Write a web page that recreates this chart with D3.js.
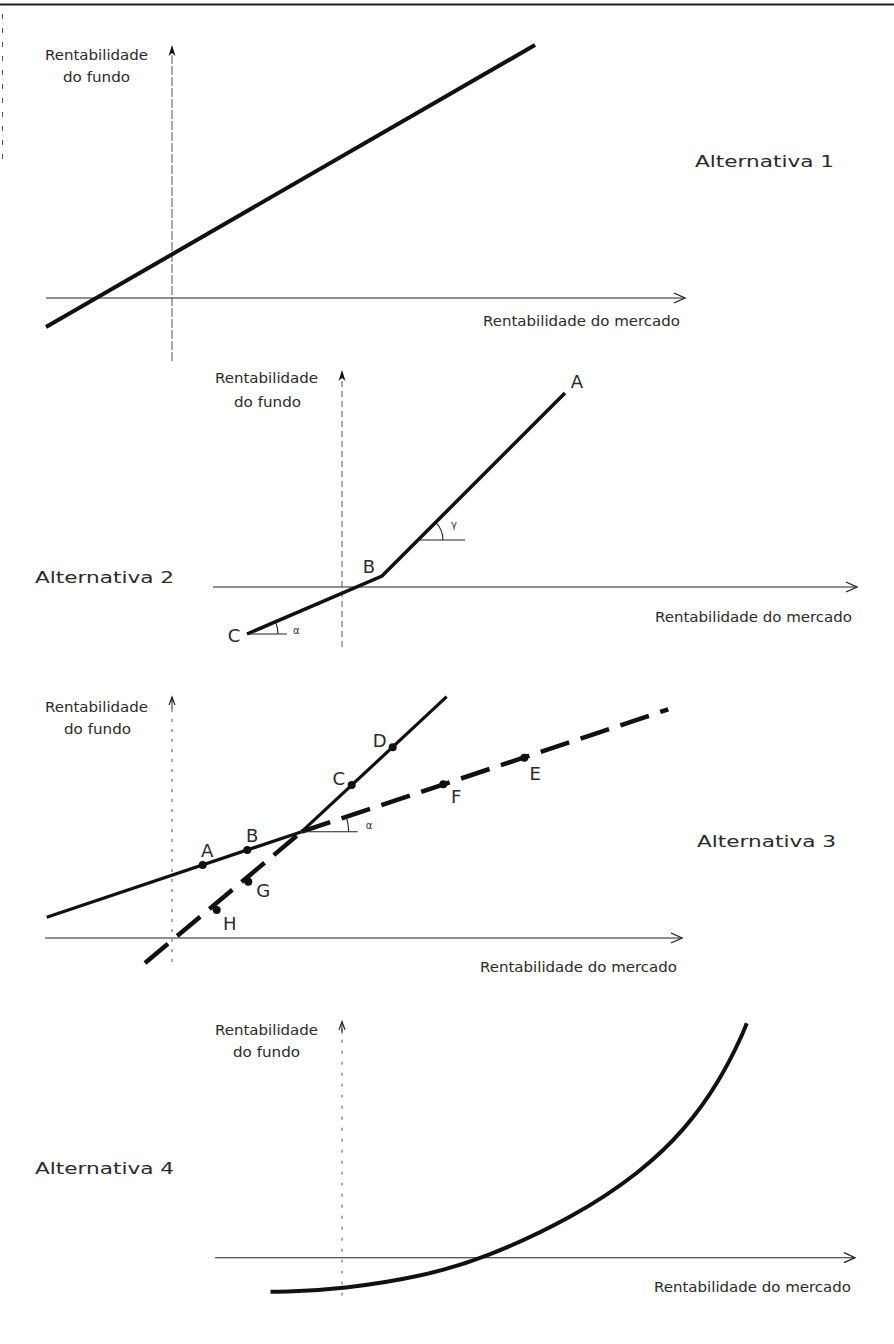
<!DOCTYPE html>
<html><head><meta charset="utf-8">
<script src="https://cdn.jsdelivr.net/npm/d3@7"></script>
<style>
body{margin:0;background:#fff}
svg{display:block;background:#fff}
text{font-family:"DejaVu Sans",sans-serif;fill:#2b2b2b}
</style>
</head><body>
<svg id="c" width="894" height="1344"></svg>
<script>
// ---------------- DATA ----------------
const yAxisTitle = ["Rentabilidade", "do fundo"];
const xAxisTitle = "Rentabilidade do mercado";
const panelTitles = ["Alternativa 1", "Alternativa 2", "Alternativa 3", "Alternativa 4"];

// Alternativa 1 : straight line
const alt1Line = [[-12.6, -2.9], [36.3, 25.3]];

// Alternativa 2 : kinked line C - B - A
const alt2Line = [[-9.5, -4.7], [4.0, 1.1], [22.3, 19.4]];
const alt2Points = ["C", "B", "A"];
const alt2Angles = [{x: -9.5, y: -4.7, seg: 0, sym: "α"}, {x: 7.6, y: 4.7, seg: 1, sym: "γ"}];

// Alternativa 3 : two lines crossing
const alt3Cross = [12.97, 10.63];
const alt3ShallowStart = [-12.53, 2.07];
const alt3ShallowEnd = [49.63, 22.87];
const alt3SteepStart = [-2.7, -2.5];
const alt3SteepEnd = [27.47, 24.13];
const alt3Points = [
  {t: "A", x: 3.07, y: 7.3}, {t: "B", x: 7.53, y: 8.8},
  {t: "C", x: 17.97, y: 15.3}, {t: "D", x: 22.07, y: 19.07},
  {t: "E", x: 35.23, y: 18.03}, {t: "F", x: 27.13, y: 15.37},
  {t: "G", x: 7.63, y: 5.63}, {t: "H", x: 4.47, y: 2.8}
];
const alt3AngleSym = "α";

// Alternativa 4 : convex curve
const alt4Curve = [[-7.15, -3.4], [-5.5, -3.4], [0, -3.13], [7.85, -1.93], [14.46, 0], [23.28, 4.1],
                   [29.89, 8.57], [34.3, 12.77], [37.83, 17.77], [40.0, 22.2], [40.47, 23.44]];

// ---------------- LAYOUT ----------------
const UNIT = 10;
const panels = [
  {ox: 172, oy: 298, xExt: [-12.6, 51.3], yExt: [-6.3, 25.3], yDash: "9,2", filled: true,
   rent: [-127, -238], fundo: [-109, -216], merc: [311, 28], title: [523, -131]},
  {ox: 342, oy: 587, xExt: [-12.9, 51.5], yExt: [-6.0, 21.7], yDash: "6,4", filled: true,
   rent: [-127, -204], fundo: [-108, -180], merc: [313, 35], title: [-307, -4]},
  {ox: 172, oy: 938, xExt: [-12.7, 51.0], yExt: [-2.4, 24.1], yDash: "3,7", filled: false,
   rent: [-127, -226], fundo: [-108, -204], merc: [308, 34], title: [525, -91]},
  {ox: 342, oy: 1257.7, xExt: [-12.7, 51.3], yExt: [-3.8, 23.6], yDash: "3,8", filled: false,
   rent: [-127, -223], fundo: [-109, -201], merc: [312, 34], title: [-307, -84]}
];

const svg = d3.select("#c");

// page decorations (scan border)
svg.append("line").attr("x1", 0).attr("x2", 894).attr("y1", 4.5).attr("y2", 4.5)
  .attr("stroke", "#222").attr("stroke-width", 2);
svg.append("line").attr("x1", 2.5).attr("x2", 2.5).attr("y1", 14).attr("y2", 165)
  .attr("stroke", "#555").attr("stroke-width", 1).attr("stroke-dasharray", "5,9");

function scales(p) {
  const x = d3.scaleLinear().domain([0, 1]).range([p.ox, p.ox + UNIT]);
  const y = d3.scaleLinear().domain([0, 1]).range([p.oy, p.oy - UNIT]);
  return {x, y};
}

function drawAxes(p, i) {
  const {x, y} = scales(p);
  const g = svg.append("g");
  const xr = x(p.xExt[1]);
  g.append("line").attr("x1", x(p.xExt[0])).attr("x2", xr).attr("y1", y(0)).attr("y2", y(0))
    .attr("stroke", "#222").attr("stroke-width", 1.1);
  g.append("path").attr("d", `M${xr - 11},${y(0) - 5} L${xr},${y(0)} L${xr - 11},${y(0) + 5}`)
    .attr("fill", "none").attr("stroke", "#222").attr("stroke-width", 1.3);
  const yt = y(p.yExt[1]);
  g.append("line").attr("x1", x(0)).attr("x2", x(0)).attr("y1", y(p.yExt[0])).attr("y2", yt + 2)
    .attr("stroke", "#555").attr("stroke-width", 1).attr("stroke-dasharray", p.yDash);
  if (p.filled) {
    g.append("path").attr("d", `M${x(0)},${yt} L${x(0) + 3.5},${yt + 11} L${x(0)},${yt + 8} L${x(0) - 3.5},${yt + 11} Z`)
      .attr("fill", "#111");
  } else {
    g.append("path").attr("d", `M${x(0) - 3},${yt + 8} L${x(0)},${yt} L${x(0) + 3},${yt + 8}`)
      .attr("fill", "none").attr("stroke", "#222").attr("stroke-width", 1.2);
    g.append("line").attr("x1", x(0)).attr("x2", x(0)).attr("y1", yt).attr("y2", yt + 12)
      .attr("stroke", "#222").attr("stroke-width", 1);
  }
  g.append("text").attr("x", p.ox + p.rent[0]).attr("y", p.oy + p.rent[1]).attr("font-size", 14)
    .attr("textLength", 103).attr("lengthAdjust", "spacingAndGlyphs").text(yAxisTitle[0]);
  g.append("text").attr("x", p.ox + p.fundo[0]).attr("y", p.oy + p.fundo[1]).attr("font-size", 14)
    .attr("textLength", 67).attr("lengthAdjust", "spacingAndGlyphs").text(yAxisTitle[1]);
  g.append("text").attr("x", p.ox + p.merc[0]).attr("y", p.oy + p.merc[1]).attr("font-size", 13.5)
    .attr("textLength", 197).attr("lengthAdjust", "spacingAndGlyphs").text(xAxisTitle);
  g.append("text").attr("x", p.ox + p.title[0]).attr("y", p.oy + p.title[1]).attr("font-size", 16)
    .attr("textLength", 139).attr("lengthAdjust", "spacingAndGlyphs").text(panelTitles[i]);
}
panels.forEach(drawAxes);

function angleMark(sc, vx, vy, slopeTo, r, len, sym, lx, ly) {
  const px = sc.x(vx), py = sc.y(vy);
  const tx = sc.x(slopeTo[0]), ty = sc.y(slopeTo[1]);
  const th = Math.atan2(ty - py, tx - px);
  svg.append("line").attr("x1", px).attr("x2", px + len).attr("y1", py).attr("y2", py)
    .attr("stroke", "#222").attr("stroke-width", 1.1);
  const pa = d3.path();
  pa.arc(px, py, r, th, 0, false);
  svg.append("path").attr("d", pa.toString()).attr("fill", "none").attr("stroke", "#222").attr("stroke-width", 1.1);
  svg.append("text").attr("x", px + lx).attr("y", py + ly).attr("font-size", 10).attr("fill", "#666").text(sym);
}

// ---- Alternativa 1
{
  const sc = scales(panels[0]);
  const line = d3.line().x(d => sc.x(d[0])).y(d => sc.y(d[1]));
  svg.append("path").attr("d", line(alt1Line)).attr("fill", "none").attr("stroke", "#111").attr("stroke-width", 4);
}

// ---- Alternativa 2
{
  const sc = scales(panels[1]);
  const line = d3.line().x(d => sc.x(d[0])).y(d => sc.y(d[1]));
  svg.append("path").attr("d", line(alt2Line)).attr("fill", "none").attr("stroke", "#111")
    .attr("stroke-width", 3.5).attr("stroke-linejoin", "miter");
  const off = [[-13, 8], [-13, -3], [12, -5]];
  alt2Points.forEach((t, k) => {
    svg.append("text").attr("x", sc.x(alt2Line[k][0]) + off[k][0]).attr("y", sc.y(alt2Line[k][1]) + off[k][1])
      .attr("font-size", 18).attr("text-anchor", "middle").text(t);
  });
  const a0 = alt2Angles[0], a1 = alt2Angles[1];
  angleMark(sc, a0.x, a0.y, alt2Line[1], 31, 40, a0.sym, 46, 0);
  angleMark(sc, a1.x, a1.y, alt2Line[2], 25, 47, a1.sym, 33, -12);
}

// ---- Alternativa 3
{
  const sc = scales(panels[2]);
  const line = d3.line().x(d => sc.x(d[0])).y(d => sc.y(d[1]));
  const solid = (pts) => svg.append("path").attr("d", line(pts)).attr("fill", "none")
    .attr("stroke", "#111").attr("stroke-width", 3.2);
  const dashed = (pts) => svg.append("path").attr("d", line(pts)).attr("fill", "none")
    .attr("stroke", "#111").attr("stroke-width", 4.5).attr("stroke-dasharray", "30,12");
  solid([alt3ShallowStart, alt3Cross]);
  dashed([alt3Cross, alt3ShallowEnd]);
  dashed([alt3SteepStart, alt3Cross]);
  solid([alt3Cross, alt3SteepEnd]);
  angleMark(sc, alt3Cross[0], alt3Cross[1], alt3ShallowEnd, 47, 56, alt3AngleSym, 64, -3);
  const off = {A: [4.5, -8], B: [5, -8], C: [-13, 0], D: [-13, 0], E: [11, 22], F: [13, 19], G: [15, 15], H: [13, 20]};
  alt3Points.forEach(p => {
    svg.append("circle").attr("cx", sc.x(p.x)).attr("cy", sc.y(p.y)).attr("r", 4).attr("fill", "#111");
    svg.append("text").attr("x", sc.x(p.x) + off[p.t][0]).attr("y", sc.y(p.y) + off[p.t][1])
      .attr("font-size", 18).attr("text-anchor", "middle").text(p.t);
  });
}

// ---- Alternativa 4
{
  const sc = scales(panels[3]);
  const line = d3.line().x(d => sc.x(d[0])).y(d => sc.y(d[1])).curve(d3.curveBasis);
  svg.append("path").attr("d", line(alt4Curve)).attr("fill", "none").attr("stroke", "#111")
    .attr("stroke-width", 4).attr("stroke-linecap", "butt");
}
</script>
</body></html>
